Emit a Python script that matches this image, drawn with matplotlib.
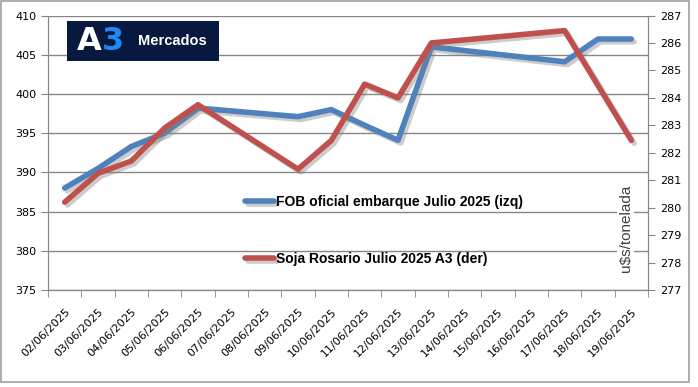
import matplotlib
matplotlib.use("Agg")
import matplotlib.pyplot as plt
import matplotlib.patheffects as pe
from matplotlib.patches import Rectangle
import numpy as np

dates = ["02/06/2025", "03/06/2025", "04/06/2025", "05/06/2025", "06/06/2025",
         "07/06/2025", "08/06/2025", "09/06/2025", "10/06/2025", "11/06/2025",
         "12/06/2025", "13/06/2025", "14/06/2025", "15/06/2025", "16/06/2025",
         "17/06/2025", "18/06/2025", "19/06/2025"]
# None = no quote that day (weekend / holiday), line just connects across
fob = [388, 390.5, 393.3, 395, 398.2, None, None, 397.1, 398, 396,
       394.1, 406, None, None, None, 404.1, 407, 407]
soja = [280.2, 281.25, 281.7, 282.9, 283.75, None, None, 281.4, 282.45, 284.5,
        284.0, 286.0, None, None, None, 286.45, 284.45, 282.45]

blue = "#4F81BD"
red = "#C0504D"
grid_c = "#868686"

fig = plt.figure(figsize=(6.98, 3.87), dpi=100)
ax = fig.add_axes([48/698, 97/387, 600/698, 274.5/387])
ax2 = ax.twinx()

shadow = [pe.SimpleLineShadow(offset=(2, -2), shadow_color="gray", alpha=0.4), pe.Normal()]

xb = [i for i, v in enumerate(fob) if v is not None]
yb = [v for v in fob if v is not None]
xr = [i for i, v in enumerate(soja) if v is not None]
yr = [v for v in soja if v is not None]

lb, = ax.plot(xb, yb, color=blue, lw=4, solid_capstyle="round", path_effects=shadow,
              label="FOB oficial embarque Julio 2025 (izq)", zorder=3)
lr, = ax2.plot(xr, yr, color=red, lw=4, solid_capstyle="round", path_effects=shadow,
               label="Soja Rosario Julio 2025 A3 (der)", zorder=3)

ax.set_xlim(-0.5, len(dates) - 0.5)
ax.set_ylim(375, 410)
ax.set_yticks(np.arange(375, 411, 5))
ax2.set_ylim(277, 287)
ax2.set_yticks(np.arange(277, 288, 1))

ax.set_xticks(range(len(dates)))
ax.set_xticklabels(dates, rotation=45, ha="right", rotation_mode="anchor", fontsize=8)
ax.tick_params(axis="x", length=0, pad=12)
ax.set_xticks(np.arange(-0.5, len(dates), 1), minor=True)
ax.tick_params(axis="x", which="minor", length=5, color=grid_c)
ax.tick_params(axis="y", labelsize=8, length=5, color=grid_c)
ax2.tick_params(axis="y", labelsize=8, length=5, color=grid_c)

ax.grid(axis="y", color=grid_c, lw=1)
for a in (ax, ax2):
    a.spines["top"].set_visible(False)
    for s in ("left", "right", "bottom"):
        a.spines[s].set_color(grid_c)
ax.set_axisbelow(True)

ax2.text(0.963, 0.225, "u$s/tonelada", transform=ax2.transAxes, rotation=90,
         ha="center", va="center", fontsize=11, family="Liberation Sans", color="#404040",
         bbox=dict(facecolor="white", edgecolor="none", pad=1), zorder=2)

leg = ax2.legend(handles=[lb, lr], loc="center left", bbox_to_anchor=(0.328, 0.217),
                 frameon=False, borderpad=0, borderaxespad=0, handlelength=2.1,
                 handletextpad=0.15, labelspacing=3.1,
                 prop=dict(family="Liberation Sans", weight="bold", size=10))

# logo
fig.patches.append(Rectangle((67/698, 326/387), 152/698, 40/387, transform=fig.transFigure,
                             facecolor="#07193F", edgecolor="none", zorder=5))
fig.text(77/698, 345/387, "A", color="white", fontsize=23, weight="bold",
         family="DejaVu Sans", va="center", zorder=6)
fig.text(102/698, 345/387, "3", color="#1E88F5", fontsize=23, weight="bold",
         family="DejaVu Sans", va="center", zorder=6)
fig.text(138/698, 346/387, "Mercados", color="white", fontsize=10.5, weight="bold",
         family="Liberation Sans", va="center", zorder=6)

fig.patches.append(Rectangle((1/698, 5/387), 688/698, 381/387, transform=fig.transFigure,
                             facecolor="none", edgecolor="#A0A0A0", lw=1.2))

plt.savefig("out.png", dpi=100)
